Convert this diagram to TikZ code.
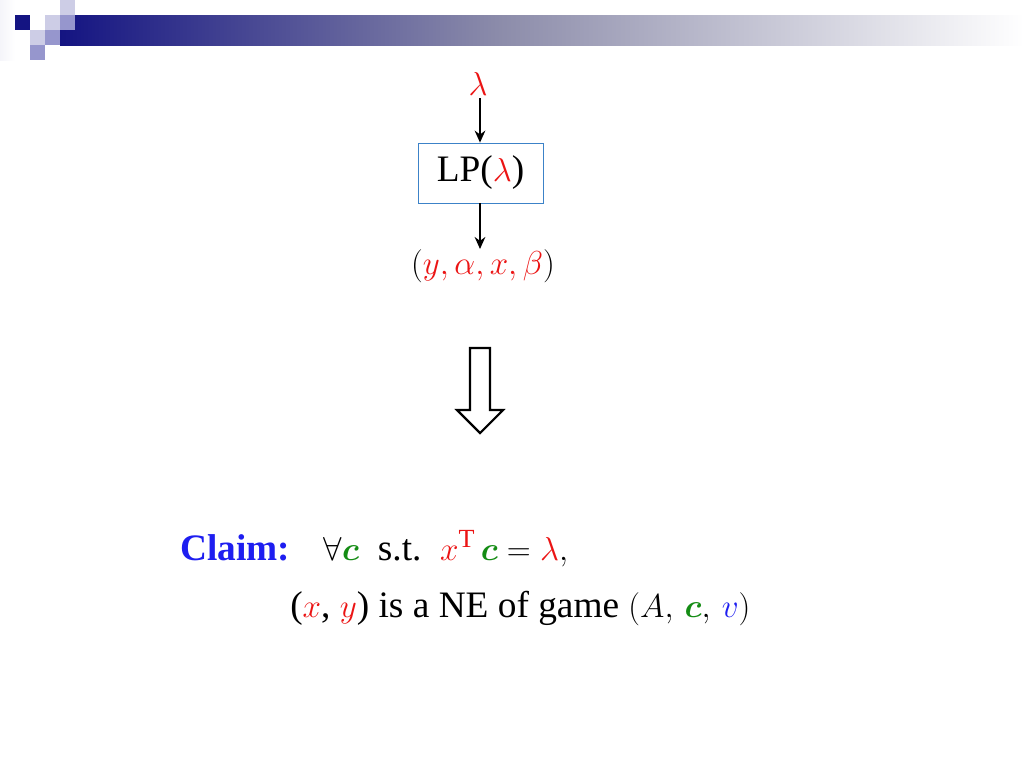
\documentclass[tikz,border=0pt]{standalone}
\usepackage{amsmath,amssymb,bm}
\usepackage{fontspec}
\setmainfont{Liberation Serif}
\usetikzlibrary{arrows.meta}
\definecolor{navy}{RGB}{20,20,130}
\definecolor{lav}{RGB}{205,205,230}
\definecolor{mid}{RGB}{150,150,205}
\definecolor{myred}{RGB}{235,20,20}
\definecolor{mygreen}{RGB}{20,140,20}
\definecolor{myblue}{RGB}{30,30,240}
\definecolor{boxblue}{RGB}{60,130,200}
\definecolor{bargray}{RGB}{140,140,170}
\tikzset{arr/.style={-{Stealth[length=9pt,width=8pt]},line width=1.8pt},
 txt/.style={font=\fontsize{28}{33}\selectfont, inner sep=0pt}}
\begin{document}
\begin{tikzpicture}[x=0.75pt,y=-0.75pt]
\useasboundingbox (0,0) rectangle (1024,768);
% decoration
\shade[left color=navy,right color=bargray] (60,15) rectangle (500,45);
\shade[left color=bargray,right color=white] (499.5,15) rectangle (1024,45);
\shade[left color=white!80!lav,right color=white] (0,0) rectangle (15,60);
\fill[navy] (15,15) rectangle (30,30);
\fill[lav] (45,15) rectangle (60,30);
\fill[lav] (60,0) rectangle (75,15);
\fill[mid] (60,15) rectangle (75,30);
\fill[lav] (30,30) rectangle (45,45);
\fill[mid] (45,30) rectangle (60,45);
\fill[mid] (30,45) rectangle (45,60);
% nodes
\node[txt] (lam) at (478,84) {$\color{myred}\lambda$};
\node[draw=boxblue,line width=0.6pt,minimum width=125*0.75pt,minimum height=60*0.75pt,txt] (lp) at (480.5,173) {LP($\color{myred}\lambda$)};
\node[txt] (tup) at (483,266) {$({\color{myred}y,\alpha,x,\beta})$};
\coordinate (a1) at (480,98);
\coordinate (a2) at (480,249);
\draw[arr] (a1) -- (a1 |- lp.north);
\draw[arr] (a2 |- lp.south) -- (a2);
% hollow arrow
\draw[line width=1.6pt,line join=miter] (470,348) -- (490,348) -- (490,410) -- (503,410) -- (480,433) -- (457,410) -- (470,410) -- cycle;
% claim
\node[txt,anchor=base west] (claim) at (180,560) {\textbf{\color{myblue}Claim:}\hspace{0.9em}$\forall{\color{mygreen}\bm{c}}$\ \ s.t.\ \ ${\color{myred}x^{\mathrm{T}}}\,{\color{mygreen}\bm{c}}={\color{myred}\lambda},$};
\node[txt,anchor=base west] (ne) at (290,617) {(${\color{myred}x}$, ${\color{myred}y}$) is a NE of game $(A,\,{\color{mygreen}\bm{c}},\,{\color{myblue}v})$};
\end{tikzpicture}
\end{document}
